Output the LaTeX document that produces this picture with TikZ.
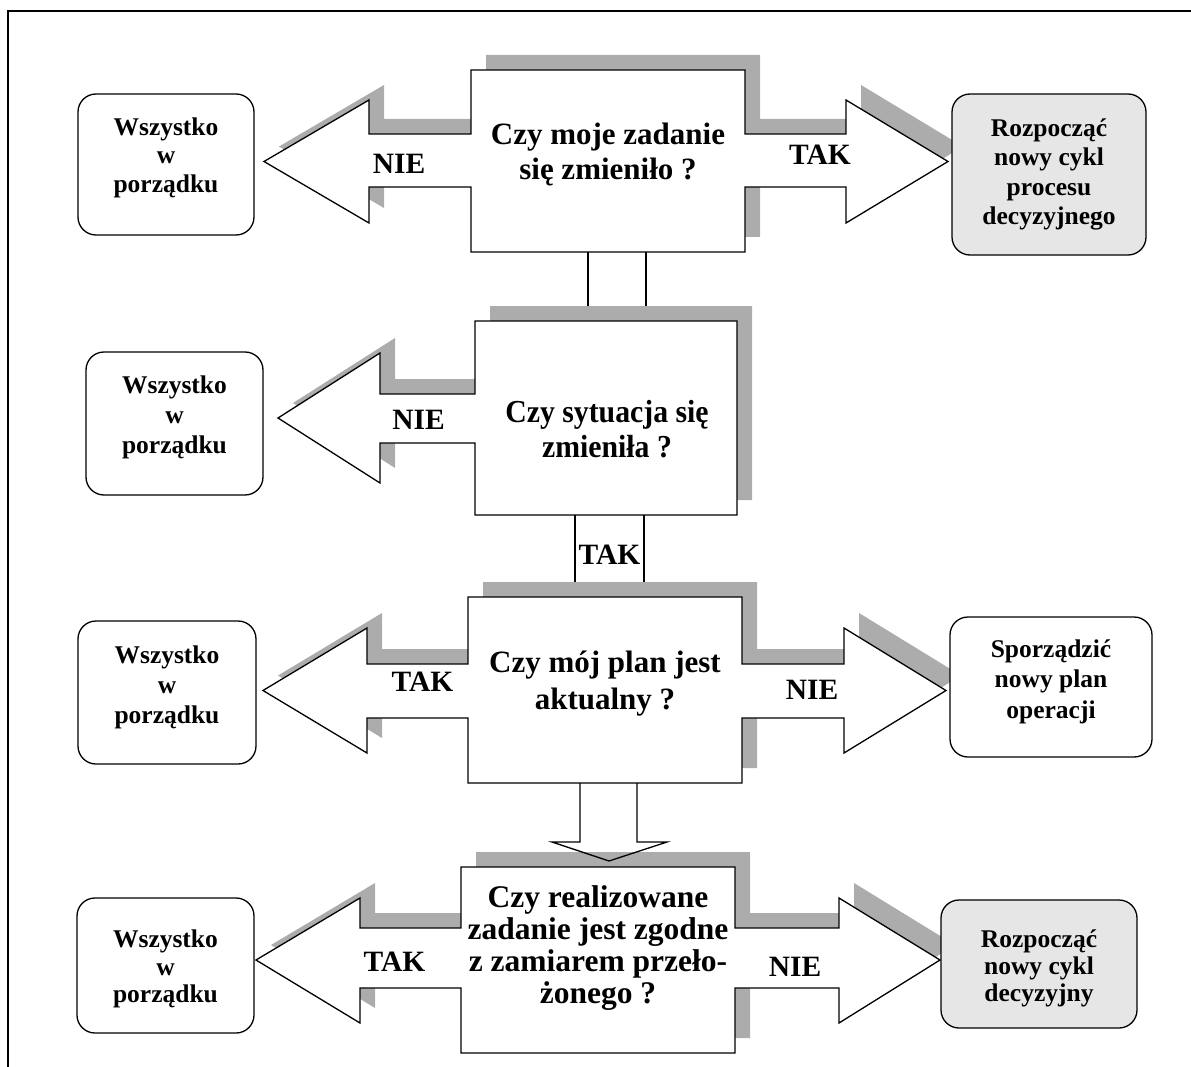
\documentclass[tikz,border=0pt]{standalone}
\usepackage{fontspec}
\setmainfont{Liberation Serif}
\newfontfamily\narrowserif[FakeStretch=0.93]{Liberation Serif}
\definecolor{shade}{RGB}{172,172,172}
\definecolor{panel}{RGB}{230,230,230}

% invisible struts that move a text block inside its box
\newcommand\padbelow[1]{\rule[-#1]{0pt}{#1}}
\newcommand\padabove[1]{\rule{0pt}{#1}}

% outlines of the four question panels with their block arrows
\def\panelA{(471,70) -- (745,70) -- (745,134) -- (846,134) -- (846,100) -- (948,161.5) -- (846,223) -- (846,187) -- (745,187) -- (745,252) -- (471,252) -- (471,187) -- (369,187) -- (369,223) -- (264,161.5) -- (369,100) -- (369,134) -- (471,134) -- cycle}
\def\panelB{(475,321) -- (737,321) -- (737,515) -- (475,515) -- (475,443) -- (380,443) -- (380,483) -- (278,418) -- (380,353) -- (380,394) -- (475,394) -- cycle}
\def\panelC{(468,597) -- (742,597) -- (742,664) -- (844,664) -- (844,628) -- (946,690.5) -- (844,753) -- (844,718) -- (742,718) -- (742,783) -- (468,783) -- (468,718) -- (367,718) -- (367,753) -- (263,690.5) -- (367,628) -- (367,664) -- (468,664) -- cycle}
\def\panelD{(461,867) -- (735,867) -- (735,928) -- (839,928) -- (839,898) -- (940,960) -- (839,1023) -- (839,988) -- (735,988) -- (735,1053) -- (461,1053) -- (461,988) -- (360,988) -- (360,1023) -- (256,960) -- (360,898) -- (360,928) -- (461,928) -- cycle}

\begin{document}
\begin{tikzpicture}[x=1pt,y=-1pt,
  outline/.style={draw=black, line width=1.3pt, line join=miter},
  dropshadow/.style={fill=shade, shift={(15,-15)}},
  answer/.style={outline, rounded corners=18pt, inner sep=0pt, align=center,
    font=\fontsize{25.5}{28.5}\selectfont\bfseries},
  question/.style={inner sep=0pt, align=center,
    font=\fontsize{31}{35}\selectfont\bfseries},
  verdict/.style={inner sep=0pt, font=\fontsize{29.5}{32}\selectfont\bfseries}]

\useasboundingbox (0,0) rectangle (1191,1067);

% page frame (top and left edges)
\draw[line width=1.3pt] (8,1067) -- (8,11) -- (1191,11);

% shadows
\fill[dropshadow] \panelA;
\fill[dropshadow] \panelB;
\fill[dropshadow] \panelC;
\fill[dropshadow] \panelD;

% question panels
\draw[outline, fill=white] \panelA;
\draw[outline, fill=white] \panelB;
\draw[outline, fill=white] \panelC;
\draw[outline, fill=white] \panelD;

% answer boxes
\node[answer, fill=white, minimum width=176, minimum height=141] (a1l) at (166,164.5)
  {Wszystko\\w\\porządku\padbelow{19pt}};
\node[answer, fill=panel, minimum width=194, minimum height=161,
  font=\fontsize{25.5}{29.3}\selectfont\bfseries] (a1r) at (1049,174.5)
  {Rozpocząć\\nowy cykl\\procesu\\decyzyjnego};
\node[answer, fill=white, minimum width=177, minimum height=143,
  font=\fontsize{25.5}{30}\selectfont\bfseries] (a2l) at (174.5,423.5)
  {Wszystko\\w\\porządku\padbelow{18pt}};
\node[answer, fill=white, minimum width=178, minimum height=143,
  font=\fontsize{25.5}{30}\selectfont\bfseries] (a3l) at (167,692.5)
  {Wszystko\\w\\porządku\padbelow{16pt}};
\node[answer, fill=white, minimum width=202, minimum height=140,
  font=\fontsize{25.5}{30.5}\selectfont\bfseries] (a3r) at (1051,687)
  {Sporządzić\\nowy plan\\operacji\padbelow{16.5pt}};
\node[answer, fill=white, minimum width=177, minimum height=135,
  font=\fontsize{25.5}{27.5}\selectfont\bfseries] (a4l) at (165.5,965.5)
  {\padabove{25pt}Wszystko\\w\\porządku};
\node[answer, fill=panel, minimum width=196, minimum height=128,
  font=\fontsize{25.5}{27}\selectfont\bfseries] (a4r) at (1039,964)
  {\padabove{27pt}Rozpocząć\\nowy cykl\\decyzyjny};

% connectors between the panels
\coordinate (c12a) at (588,252);
\coordinate (c12b) at (646,252);
\coordinate (c12c) at (588,306);
\coordinate (c12d) at (646,306);
\draw[line width=1.3pt] (c12a) -- (c12c) (c12b) -- (c12d);

\coordinate (c23a) at (575,515);
\coordinate (c23b) at (644,515);
\coordinate (c23c) at (575,582);
\coordinate (c23d) at (644,582);
\draw[line width=1.3pt] (c23a) -- (c23c) (c23b) -- (c23d);

\coordinate (c34a) at (580,783);
\coordinate (c34b) at (637,783);
\coordinate (c34tip) at (609,861);
\draw[outline] (c34a) -- (580,842) -- (552,842) -- (c34tip) -- (667,842) -- (637,842) -- (c34b);

% questions
\node[question] (q1) at (608,155) {Czy moje zadanie\\się zmieniło ?};
\node[question, font=\fontsize{32}{35}\narrowserif\bfseries] (q2) at (607,429) {Czy sytuacja się\\zmieniła ?};
\node[question, font=\fontsize{31}{37}\selectfont\bfseries] (q3) at (605,684) {Czy mój plan jest\\aktualny ?};
\node[question, font=\fontsize{31.5}{31.7}\selectfont\bfseries] (q4) at (598,948) {Czy realizowane\\zadanie jest zgodne\\z zamiarem przeło-\\żonego ?};

% answers on the arrows
\node[verdict] (v1l) at (399,163.5) {NIE};
\node[verdict] (v1r) at (820,155) {TAK};
\node[verdict] (v2l) at (418.5,420) {NIE};
\node[verdict] (v23) at (609.5,555) {TAK};
\node[verdict] (v3l) at (422.5,682) {TAK};
\node[verdict] (v3r) at (812,690) {NIE};
\node[verdict] (v4l) at (394.5,962) {TAK};
\node[verdict] (v4r) at (795,967) {NIE};

\end{tikzpicture}
\end{document}
